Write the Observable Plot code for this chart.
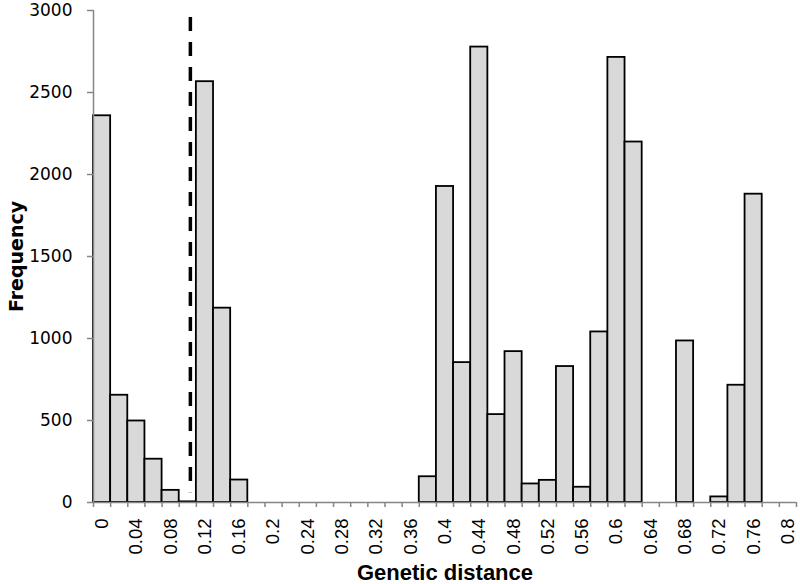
<!DOCTYPE html>
<html>
<head>
<meta charset="utf-8">
<script src="https://cdn.jsdelivr.net/npm/d3@7"></script>
<script src="https://cdn.jsdelivr.net/npm/@observablehq/plot@0.6"></script>
<style>
  html, body { margin: 0; padding: 0; background: #fff; }
  #chart svg { display: block; }
</style>
</head>
<body>
<div id="chart"></div>
<script>
// Bin centres (genetic distance, bin width 0.02)
const categories = [0, 0.02, 0.04, 0.06, 0.08, 0.10, 0.12, 0.14, 0.16, 0.18,
  0.20, 0.22, 0.24, 0.26, 0.28, 0.30, 0.32, 0.34, 0.36, 0.38,
  0.40, 0.42, 0.44, 0.46, 0.48, 0.50, 0.52, 0.54, 0.56, 0.58,
  0.60, 0.62, 0.64, 0.66, 0.68, 0.70, 0.72, 0.74, 0.76, 0.78, 0.80];
// Frequencies per bin
const frequencies = [2358, 654, 497, 264, 74, 4, 2566, 1185, 137, 0,
  0, 0, 0, 0, 0, 0, 0, 0, 0, 157,
  1927, 853, 2777, 536, 920, 113, 135, 829, 93, 1040,
  2714, 2198, 0, 0, 985, 0, 34, 715, 1880, 0, 0];
// Tick labels shown on the x axis
const xTickLabels = [0, 0.04, 0.08, 0.12, 0.16, 0.2, 0.24, 0.28, 0.32, 0.36,
  0.4, 0.44, 0.48, 0.52, 0.56, 0.6, 0.64, 0.68, 0.72, 0.76, 0.8];
const yTicks = [0, 500, 1000, 1500, 2000, 2500, 3000];
// Threshold (dashed line) position and its vertical extent
const threshold = [0.103];
const thresholdRange = [2957, 60];

const binWidth = 0.02;
const data = categories.map((c, i) => ({c, f: frequencies[i]})).filter(d => d.f > 0);
const boundaries = categories.map(c => c - binWidth / 2).concat([categories[categories.length - 1] + binWidth / 2]);

const axisGray = "#868686";

const chart = Plot.plot({
  width: 800,
  height: 584,
  marginLeft: 93,
  marginRight: 4,
  marginTop: 10,
  marginBottom: 82,
  x: {domain: [categories[0] - binWidth / 2, categories[categories.length - 1] + binWidth / 2]},
  y: {domain: [0, 3000]},
  marks: [
    Plot.rectY(data, {
      x1: d => d.c - binWidth / 2,
      x2: d => d.c + binWidth / 2,
      y1: 0,
      y2: "f",
      fill: "#d9d9d9",
      stroke: "#000",
      strokeWidth: 1.8
    }),
    Plot.ruleX(threshold, {
      x: d => d,
      y1: thresholdRange[0],
      y2: thresholdRange[1],
      stroke: "#000",
      strokeWidth: 3.5,
      strokeDasharray: "14,11"
    }),
    // axis lines
    Plot.ruleY([0], {stroke: axisGray, strokeWidth: 1.5}),
    Plot.ruleX([categories[0] - binWidth / 2], {stroke: axisGray, strokeWidth: 1.5}),
    // x tick marks at bin boundaries
    Plot.axisX({ticks: boundaries, tickSize: 5, tickFormat: () => "", stroke: axisGray, strokeWidth: 1.5}),
    // x tick labels
    Plot.axisX({
      ticks: xTickLabels,
      tickSize: 0,
      tickPadding: 16,
      tickRotate: -90,
      tickFormat: d => String(+d.toFixed(2)),
      fontSize: 18.5,
      fontFamily: "Liberation Sans, Arial, sans-serif",
      fill: "#000",
      label: null
    }),
    // y axis
    Plot.axisY({
      ticks: yTicks,
      tickSize: 6,
      tickPadding: 15,
      tickFormat: d => String(d),
      stroke: axisGray,
      strokeWidth: 1.5,
      fontSize: 17,
      fontFamily: "DejaVu Sans, Verdana, sans-serif",
      fill: "#000",
      label: null
    }),
    // axis titles
    Plot.text(["Genetic distance"], {
      frameAnchor: "bottom",
      dy: 77,
      lineAnchor: "bottom",
      textAnchor: "middle",
      text: d => d,
      fontSize: 22,
      fontWeight: "bold",
      fontFamily: "Liberation Sans, Arial, sans-serif",
      fill: "#000"
    }),
    Plot.text(["Frequency"], {
      frameAnchor: "left",
      dx: -77,
      rotate: -90,
      textAnchor: "middle",
      lineAnchor: "middle",
      text: d => d,
      fontSize: 19,
      fontWeight: "bold",
      fontFamily: "DejaVu Sans, Verdana, sans-serif",
      fill: "#000"
    })
  ]
});
document.getElementById("chart").appendChild(chart);
</script>
</body>
</html>
